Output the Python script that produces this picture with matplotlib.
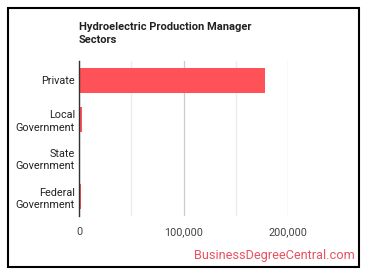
import matplotlib
matplotlib.use("Agg")
import matplotlib.pyplot as plt
from matplotlib.patches import Rectangle
from matplotlib.ticker import FuncFormatter

categories = ["Private", "Local\nGovernment", "State\nGovernment", "Federal\nGovernment"]
values = [178000, 2900, 1200, 1600]
xticks = [0, 100000, 200000]
minor_ticks = [50000, 150000]
title = "Hydroelectric Production Manager\nSectors"
watermark = "BusinessDegreeCentral.com"

plt.rcParams['font.family'] = ['Roboto', 'DejaVu Sans']

W, H = 370, 278
fig = plt.figure(figsize=(W / 100, H / 100), dpi=100)
fig.patch.set_facecolor("white")

# border
fig.patches.append(Rectangle((8 / W, 1 - 267 / H), 351 / W, 259 / H, transform=fig.transFigure,
                             fill=False, edgecolor="black", linewidth=1.5))

ax = fig.add_axes([79 / W, (H - 216) / H, 209 / W, 155 / H])
y = list(range(len(categories)))
ax.barh(y, values, height=0.64, color="#FF5258", zorder=3)
ax.set_ylim(len(categories) - 0.5, -0.5)
ax.set_xlim(0, 200000)
ax.set_yticks(y)
ax.set_yticklabels(categories, fontsize=7.8, color="#222222", linespacing=1.3)
ax.set_xticks(xticks)
ax.xaxis.set_major_formatter(FuncFormatter(lambda v, p: f"{int(v):,}"))
ax.set_xticks(minor_ticks, minor=True)
ax.tick_params(axis="x", which="both", length=0, labelsize=7.8, labelcolor="#444444", pad=8)
ax.tick_params(axis="y", length=0, pad=3)
ax.grid(axis="x", which="major", color="#cccccc", linewidth=0.9, zorder=0)
ax.grid(axis="x", which="minor", color="#ebebeb", linewidth=0.9, zorder=0)
for s in ["top", "right", "bottom"]:
    ax.spines[s].set_visible(False)
ax.spines["left"].set_color("#333333")
ax.spines["left"].set_linewidth(1.0)
ax.spines["left"].set_zorder(4)

fig.text(79 / W, 1 - 22 / H, title, fontsize=8.0, fontweight="bold", color="#222222",
         ha="left", va="top", linespacing=1.35)
fig.text(355 / W, 1 - 256 / H, watermark, fontsize=9.2, color="#E8525E", ha="right", va="center")

fig.savefig("out.png", dpi=100)
